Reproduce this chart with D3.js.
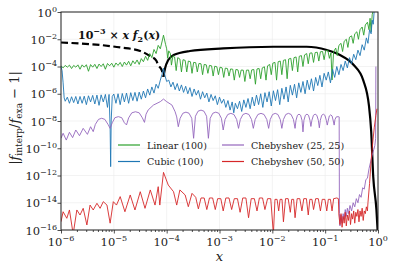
<!DOCTYPE html>
<html>
<head>
<meta charset="utf-8">
<script src="https://cdn.jsdelivr.net/npm/d3@7"></script>
<style>
  body { margin: 0; background: #fff; }
  svg { display: block; }
</style>
</head>
<body>
<div id="plot"></div>
<script>
// all values as log10 exponents: [log10 x, log10 y]
const xTicks = [-6, -5, -4, -3, -2, -1, 0];
const yTicks = [0, -2, -4, -6, -8, -10, -12, -14, -16];

const legendNames = ["Linear (100)", "Cubic (100)", "Chebyshev (25, 25)", "Chebyshev (50, 50)"];
const legendColors = ["#2ca02c", "#1f77b4", "#9467bd", "#d62728"];

// 1e-3 * x f2(x): negative part (dashed) and positive part (solid)
const f2Negative = [[-6.00,-2.24],[-5.64,-2.31],[-5.26,-2.42],[-4.88,-2.60],[-4.50,-2.86],[-4.31,-3.25],[-4.20,-3.55],[-4.16,-3.89],[-4.09,-4.30],[-4.06,-4.75]];
const f2Positive = [[-4.06,-4.75],[-4.03,-4.13],[-3.97,-3.52],[-3.87,-3.16],[-3.56,-2.86],[-2.93,-2.67],[-1.98,-2.55],[-1.35,-2.55],[-0.97,-2.79],[-0.72,-3.16],[-0.46,-3.89],[-0.28,-5.00],[-0.17,-6.90],[-0.13,-8.70],[-0.09,-12.1],[-0.03,-14.5],[0.00,-16.5]];

const linear100 = [
[-6.00,-3.95],[-5.96,-4.10],[-5.92,-3.92],[-5.88,-4.05],[-5.84,-3.90],[-5.80,-4.15],[-5.76,-3.92],[-5.72,-4.05],[-5.68,-3.88],[-5.64,-4.20],
[-5.60,-3.88],[-5.56,-4.05],[-5.52,-3.87],[-5.48,-4.35],[-5.44,-3.86],[-5.40,-4.05],[-5.36,-3.84],[-5.32,-4.15],[-5.28,-3.82],[-5.24,-4.00],
[-5.20,-3.80],[-5.16,-4.20],[-5.12,-3.78],[-5.08,-3.95],[-5.04,-3.76],[-5.00,-4.05],[-4.96,-3.74],[-4.92,-3.92],[-4.88,-3.70],[-4.84,-4.00],
[-4.80,-3.67],[-4.76,-3.90],[-4.72,-3.62],[-4.68,-3.95],[-4.64,-3.58],[-4.60,-3.80],[-4.56,-3.52],[-4.52,-3.85],[-4.48,-3.42],[-4.44,-3.65],
[-4.40,-3.25],[-4.36,-3.55],[-4.32,-3.05],[-4.28,-3.35],[-4.24,-2.75],[-4.20,-3.05],[-4.16,-2.45],[-4.12,-2.70],[-4.08,-2.05],[-4.06,-1.70],
[-4.02,-2.40],[-4.00,-2.70],[-3.98,-3.40],[-3.96,-2.85],[-3.93,-3.05],[-3.91,-3.90],[-3.88,-3.20],[-3.85,-3.30],[-3.82,-4.30],[-3.79,-3.35],
[-3.75,-3.45],[-3.72,-4.40],[-3.69,-3.50],[-3.65,-3.55],[-3.62,-4.40],[-3.59,-3.60],[-3.55,-3.65],[-3.52,-4.50],[-3.49,-3.70],[-3.45,-3.72],
[-3.42,-4.40],[-3.39,-3.78],[-3.35,-3.80],[-3.32,-4.60],[-3.29,-3.85],[-3.25,-3.88],[-3.22,-4.50],[-3.19,-3.92],[-3.15,-3.95],[-3.12,-4.70],
[-3.09,-3.98],[-3.05,-4.02],[-3.02,-4.60],[-2.99,-4.05],[-2.95,-4.10],[-2.92,-4.80],[-2.89,-4.12],[-2.85,-4.15],[-2.82,-4.70],[-2.79,-4.18],
[-2.75,-4.20],[-2.72,-5.00],[-2.69,-4.22],[-2.65,-4.25],[-2.62,-4.80],[-2.59,-4.26],[-2.55,-4.27],[-2.52,-5.10],[-2.49,-4.27],[-2.45,-4.26],
[-2.42,-4.90],[-2.39,-4.25],[-2.35,-4.22],[-2.32,-5.30],[-2.29,-4.18],[-2.25,-4.15],[-2.22,-4.90],[-2.19,-4.10],[-2.15,-4.02],[-2.12,-5.00],
[-2.09,-3.95],[-2.05,-3.85],[-2.02,-4.60],[-1.99,-3.75],[-1.95,-3.70],[-1.92,-5.00],[-1.89,-3.65],[-1.85,-3.60],[-1.82,-4.60],[-1.79,-3.55],
[-1.75,-3.50],[-1.72,-4.90],[-1.69,-3.45],[-1.65,-3.40],[-1.62,-4.30],[-1.59,-3.35],[-1.55,-3.30],[-1.52,-4.40],[-1.49,-3.25],[-1.45,-3.20],
[-1.42,-4.00],[-1.39,-3.15],[-1.35,-3.05],[-1.32,-3.80],[-1.29,-3.02],[-1.25,-3.00],[-1.22,-3.70],[-1.19,-2.98],[-1.15,-2.95],[-1.12,-3.60],
[-1.09,-2.92],[-1.05,-2.90],[-1.02,-3.50],[-0.99,-2.85],[-0.95,-2.80],[-0.92,-3.40],[-0.89,-3.00],[-0.87,-4.99],[-0.84,-2.90],[-0.80,-2.65],
[-0.77,-3.20],[-0.74,-2.45],[-0.70,-2.30],[-0.67,-2.90],[-0.64,-2.15],[-0.60,-2.00],[-0.57,-2.60],[-0.54,-1.85],[-0.50,-1.75],[-0.47,-2.30],
[-0.44,-1.60],[-0.40,-1.45],[-0.37,-2.00],[-0.34,-1.30],[-0.30,-1.10],[-0.27,-1.70],[-0.24,-0.95],[-0.20,-0.75],[-0.17,-1.30],[-0.15,-0.46],
[-0.13,-1.45],[-0.11,-0.20],[-0.08,0.30]
];

const cubic100 = [
[-6.00,-4.00],[-5.98,-4.30],[-5.96,-5.20],[-5.94,-6.30],[-5.92,-6.55],[-5.88,-6.25],[-5.84,-6.70],[-5.80,-6.22],[-5.76,-6.65],[-5.72,-6.20],
[-5.68,-6.75],[-5.64,-6.20],[-5.60,-6.70],[-5.56,-6.18],[-5.52,-6.80],[-5.48,-6.15],[-5.44,-6.60],[-5.40,-6.12],[-5.36,-6.75],[-5.32,-6.10],
[-5.28,-6.85],[-5.24,-6.08],[-5.20,-6.60],[-5.16,-6.05],[-5.12,-7.00],[-5.09,-6.05],[-5.07,-8.50],[-5.06,-11.35],[-5.05,-8.00],[-5.03,-6.20],
[-5.00,-6.02],[-4.96,-6.70],[-4.92,-6.00],[-4.88,-6.80],[-4.84,-5.98],[-4.80,-6.60],[-4.76,-5.95],[-4.72,-6.70],[-4.68,-5.92],[-4.64,-6.50],
[-4.60,-5.90],[-4.56,-6.55],[-4.52,-5.88],[-4.48,-6.40],[-4.44,-5.80],[-4.40,-6.30],[-4.36,-5.65],[-4.32,-6.10],[-4.28,-5.50],[-4.24,-5.95],
[-4.20,-5.30],[-4.16,-5.60],[-4.12,-5.00],[-4.09,-4.60],[-4.06,-4.13],[-4.03,-4.70],[-4.00,-5.10],[-3.96,-5.00],[-3.92,-5.50],[-3.88,-5.15],
[-3.84,-5.70],[-3.80,-5.25],[-3.76,-5.80],[-3.72,-5.35],[-3.68,-5.90],[-3.64,-5.45],[-3.60,-6.00],[-3.56,-5.55],[-3.52,-6.20],[-3.48,-5.65],
[-3.44,-6.10],[-3.40,-5.75],[-3.36,-6.40],[-3.32,-5.85],[-3.28,-6.30],[-3.24,-5.95],[-3.20,-6.60],[-3.16,-6.05],[-3.12,-6.50],[-3.08,-6.15],
[-3.04,-6.80],[-3.00,-6.25],[-2.96,-6.70],[-2.92,-6.40],[-2.88,-7.00],[-2.84,-6.50],[-2.80,-7.20],[-2.76,-6.60],[-2.73,-7.40],[-2.70,-6.70],
[-2.66,-7.10],[-2.62,-6.55],[-2.58,-7.30],[-2.54,-6.45],[-2.50,-7.00],[-2.46,-6.35],[-2.42,-7.10],[-2.38,-6.25],[-2.34,-6.90],[-2.30,-6.10],
[-2.26,-6.80],[-2.22,-6.00],[-2.18,-7.00],[-2.14,-5.92],[-2.10,-6.60],[-2.06,-5.85],[-2.02,-6.90],[-1.98,-5.78],[-1.94,-6.50],[-1.90,-5.70],
[-1.86,-6.80],[-1.82,-5.60],[-1.78,-6.40],[-1.74,-5.50],[-1.70,-6.60],[-1.66,-5.38],[-1.62,-6.10],[-1.58,-5.30],[-1.54,-6.30],[-1.50,-5.20],
[-1.46,-5.90],[-1.42,-5.10],[-1.38,-6.00],[-1.34,-5.00],[-1.30,-5.70],[-1.26,-4.90],[-1.22,-5.80],[-1.18,-4.80],[-1.14,-5.40],[-1.10,-4.65],
[-1.06,-5.50],[-1.02,-4.50],[-0.98,-5.00],[-0.94,-4.40],[-0.90,-5.20],[-0.86,-4.20],[-0.82,-4.80],[-0.78,-4.00],[-0.74,-4.60],[-0.70,-3.85],
[-0.66,-4.30],[-0.62,-3.60],[-0.58,-4.10],[-0.54,-3.35],[-0.50,-3.80],[-0.46,-3.10],[-0.42,-3.50],[-0.38,-2.80],[-0.34,-3.20],[-0.30,-2.40],
[-0.26,-2.80],[-0.22,-1.90],[-0.19,-2.30],[-0.16,-1.30],[-0.13,-1.60],[-0.11,-0.60],[-0.09,-0.90],[-0.07,0.20]
];

const cheb25 = [
[-6.00,-9.27],[-5.96,-8.90],[-5.90,-9.40],[-5.84,-8.83],[-5.78,-9.22],[-5.72,-8.66],[-5.65,-9.08],[-5.58,-8.54],[-5.50,-8.98],[-5.44,-8.42],[-5.39,-8.78],
[-5.35,-8.25],[-5.29,-7.88],[-5.23,-7.80],[-5.17,-7.88],[-5.11,-8.25],[-5.07,-8.54],
[-5.03,-8.13],[-4.98,-7.76],[-4.915,-7.68],[-4.85,-7.76],[-4.80,-8.13],[-4.76,-8.29],
[-4.72,-7.77],[-4.66,-7.40],[-4.59,-7.32],[-4.52,-7.40],[-4.46,-7.77],[-4.42,-8.10],
[-4.39,-7.50],[-4.35,-7.19],[-4.25,-6.83],[-4.12,-6.58],[-4.06,-6.39],[-4.00,-6.58],[-3.90,-6.83],[-3.84,-7.32],[-3.81,-7.70],[-3.78,-8.42],
[-3.745,-7.80],[-3.693,-7.43],[-3.635,-7.35],[-3.577,-7.43],[-3.525,-7.80],[-3.49,-9.27],
[-3.456,-7.65],[-3.406,-7.28],[-3.35,-7.20],[-3.294,-7.28],[-3.244,-7.65],[-3.21,-9.27],
[-3.176,-7.80],[-3.126,-7.43],[-3.07,-7.35],[-3.014,-7.43],[-2.964,-7.80],[-2.93,-8.66],
[-2.895,-7.89],[-2.843,-7.52],[-2.785,-7.44],[-2.727,-7.52],[-2.675,-7.89],[-2.64,-8.54],
[-2.606,-7.89],[-2.556,-7.52],[-2.50,-7.44],[-2.444,-7.52],[-2.394,-7.89],[-2.36,-8.54],
[-2.325,-7.89],[-2.273,-7.52],[-2.215,-7.44],[-2.157,-7.52],[-2.105,-7.89],[-2.07,-8.54],
[-2.04,-7.89],[-1.995,-7.52],[-1.945,-7.44],[-1.895,-7.52],[-1.85,-7.89],[-1.82,-8.54],
[-1.79,-7.89],[-1.745,-7.52],[-1.695,-7.44],[-1.645,-7.52],[-1.60,-7.89],[-1.57,-8.54],
[-1.552,-7.95],[-1.525,-7.58],[-1.495,-7.50],[-1.465,-7.58],[-1.438,-7.95],[-1.42,-8.80],
[-1.402,-7.95],[-1.375,-7.58],[-1.345,-7.50],[-1.315,-7.58],[-1.288,-7.95],[-1.27,-8.40],
[-1.251,-7.95],[-1.222,-7.58],[-1.19,-7.50],[-1.158,-7.58],[-1.129,-7.95],[-1.11,-8.50],
[-1.092,-7.95],[-1.065,-7.58],[-1.035,-7.50],[-1.005,-7.58],[-0.978,-7.95],[-0.96,-8.30],
[-0.944,-8.00],[-0.921,-7.63],[-0.895,-7.55],[-0.869,-7.63],[-0.846,-8.00],[-0.83,-8.30],
[-0.815,-7.90],[-0.79,-7.70],[-0.75,-7.68],[-0.735,-7.70],
[-0.73,-14.8],[-0.72,-15.7],[-0.70,-14.9],[-0.68,-15.5],[-0.66,-14.8],[-0.64,-15.2],[-0.62,-14.5],[-0.60,-15.0],[-0.58,-14.4],[-0.56,-14.8],
[-0.53,-14.2],[-0.50,-14.6],[-0.47,-14.0],[-0.44,-14.3],[-0.41,-13.7],[-0.38,-14.0],[-0.35,-13.4],[-0.32,-13.6],[-0.29,-12.9],[-0.26,-13.0],
[-0.23,-12.3],[-0.20,-12.2],[-0.17,-11.5],[-0.14,-11.0],[-0.11,-10.5],[-0.08,-10.1],[-0.06,-9.8],[-0.045,-9.3],[-0.04,-4.0]
];

const cheb50 = [
[-6.00,-15.39],[-5.96,-14.66],[-5.89,-15.14],[-5.84,-14.53],[-5.77,-16.3],[-5.70,-14.53],[-5.64,-14.90],[-5.58,-14.41],[-5.51,-15.63],[-5.45,-14.17],
[-5.39,-14.53],[-5.32,-14.04],[-5.26,-14.41],[-5.20,-13.92],[-5.13,-14.17],[-5.07,-15.50],[-5.01,-13.92],[-4.95,-14.17],[-4.88,-13.55],[-4.79,-14.66],
[-4.69,-13.43],[-4.60,-14.53],[-4.50,-13.19],[-4.41,-14.41],[-4.31,-13.06],[-4.22,-14.17],[-4.16,-12.82],[-4.13,-14.17],[-4.06,-11.77],[-3.97,-12.70],
[-3.87,-13.19],[-3.81,-14.17],[-3.75,-13.06],[-3.65,-13.43],[-3.59,-14.29],[-3.52,-13.31],[-3.45,-13.60],
[-3.40,-14.45],[-3.35,-13.65],[-3.29,-13.65],[-3.24,-14.50],[-3.19,-13.65],[-3.13,-13.65],[-3.08,-14.50],[-3.035,-13.7],[-2.975,-13.7],[-2.93,-14.60],
[-2.88,-13.65],[-2.82,-13.65],[-2.77,-14.50],[-2.72,-13.7],[-2.66,-13.7],[-2.61,-14.70],[-2.56,-13.65],[-2.50,-13.65],[-2.45,-15.10],[-2.40,-13.7],
[-2.34,-13.7],[-2.29,-14.60],[-2.245,-13.65],[-2.185,-13.65],[-2.14,-14.50],[-2.09,-13.7],[-2.03,-13.7],[-1.98,-16.30],[-1.95,-13.75],[-1.91,-13.75],
[-1.88,-14.60],[-1.853,-13.75],[-1.817,-13.75],[-1.79,-15.40],[-1.75,-13.7],[-1.70,-13.7],[-1.66,-14.70],[-1.633,-13.75],[-1.597,-13.75],[-1.57,-15.10],
[-1.53,-13.7],[-1.48,-13.7],[-1.44,-14.60],[-1.405,-13.7],[-1.355,-13.7],[-1.32,-14.90],[-1.29,-13.75],[-1.25,-13.75],[-1.22,-14.50],[-1.18,-13.7],
[-1.13,-13.7],[-1.09,-14.60],[-1.055,-13.75],[-1.005,-13.75],[-0.97,-14.60],[-0.94,-13.75],[-0.90,-13.75],[-0.87,-14.60],[-0.84,-13.7],[-0.78,-13.65],
[-0.75,-13.7],
[-0.74,-14.9],[-0.72,-15.6],[-0.70,-14.8],[-0.68,-15.8],[-0.66,-15.0],[-0.64,-15.5],[-0.62,-14.7],[-0.60,-15.7],[-0.58,-14.9],[-0.56,-15.3],
[-0.54,-14.6],[-0.52,-15.6],[-0.50,-14.8],[-0.48,-15.2],[-0.46,-14.6],[-0.44,-15.5],[-0.42,-14.7],[-0.40,-15.0],[-0.38,-14.5],[-0.36,-15.4],
[-0.34,-14.6],[-0.32,-15.0],[-0.30,-14.4],[-0.28,-15.3],[-0.26,-14.6],[-0.24,-14.8],[-0.22,-14.3],[-0.20,-14.6],[-0.19,-14.0],[-0.16,-12.6],
[-0.13,-10.9],[-0.10,-9.6],[-0.07,-8.45],[-0.04,-7.6],[-0.02,-7.1]
];

const margin = {top: 12, right: 15, bottom: 40, left: 61};
const width = 393 - margin.left - margin.right;
const height = 270 - margin.top - margin.bottom;
const serif = "DejaVu Serif";

const svg = d3.select("#plot")
    .append("svg")
    .attr("width", width + margin.left + margin.right)
    .attr("height", height + margin.top + margin.bottom);

const plot = svg.append("g")
    .attr("transform", "translate(" + margin.left + "," + margin.top + ")");

const x = d3.scaleLog().domain([1e-6, 1]).range([0, width]);
const y = d3.scaleLog().domain([1e-16, 1]).range([height, 0]);

// grid
plot.append("g").selectAll("line").data(xTicks).enter().append("line")
    .attr("x1", d => x(10 ** d)).attr("x2", d => x(10 ** d))
    .attr("y1", 0).attr("y2", height)
    .attr("stroke", "#ebebeb").attr("stroke-width", 0.6);
plot.append("g").selectAll("line").data(yTicks).enter().append("line")
    .attr("x1", 0).attr("x2", width)
    .attr("y1", d => y(10 ** d)).attr("y2", d => y(10 ** d))
    .attr("stroke", "#ebebeb").attr("stroke-width", 0.6);

// lines
plot.append("clipPath").attr("id", "clip")
    .append("rect").attr("width", width).attr("height", height);
const lines = plot.append("g").attr("clip-path", "url(#clip)");

const line = d3.line()
    .x(d => x(10 ** d[0]))
    .y(d => y(10 ** d[1]));
const smooth = d3.line()
    .x(d => x(10 ** d[0]))
    .y(d => y(10 ** d[1]))
    .curve(d3.curveMonotoneX);

lines.append("path").datum(f2Negative).attr("d", smooth)
    .attr("fill", "none").attr("stroke", "#000").attr("stroke-width", 2.2)
    .attr("stroke-dasharray", "7,3.5");
lines.append("path").datum(f2Positive).attr("d", smooth)
    .attr("fill", "none").attr("stroke", "#000").attr("stroke-width", 2.2);

[linear100, cubic100, cheb25, cheb50].forEach((s, i) => {
  lines.append("path").datum(s).attr("d", line)
      .attr("fill", "none").attr("stroke", legendColors[i])
      .attr("stroke-width", 0.9).attr("stroke-linejoin", "round");
});

// axes
const minorX = [];
xTicks.slice(0, -1).forEach(e => { for (let m = 2; m < 10; m++) minorX.push(m * 10 ** e); });

plot.append("g").attr("transform", "translate(0," + height + ")")
    .call(d3.axisBottom(x).tickValues(minorX).tickSize(2).tickFormat(() => ""))
    .call(g => g.select(".domain").remove());
plot.append("g").attr("transform", "translate(0," + height + ")")
    .call(d3.axisBottom(x).tickValues(xTicks.map(e => 10 ** e)).tickSize(3.5).tickFormat(() => ""))
    .call(g => g.select(".domain").remove());
plot.append("g")
    .call(d3.axisLeft(y).tickValues(yTicks.map(e => 10 ** e)).tickSize(3.5).tickFormat(() => ""))
    .call(g => g.select(".domain").remove());
plot.selectAll(".tick line").attr("stroke", "#222").attr("stroke-width", 0.8);

plot.append("rect").attr("width", width).attr("height", height)
    .attr("fill", "none").attr("stroke", "#222").attr("stroke-width", 1);

function powLabel(t, e) {
  t.append("tspan").text("10");
  t.append("tspan").attr("dy", -5).attr("font-size", 8).text(e === 0 ? "0" : "\u2212" + (-e));
}

xTicks.forEach(e => {
  const t = plot.append("text").attr("x", x(10 ** e)).attr("y", height + 15.5)
      .attr("text-anchor", "middle").attr("font-family", serif).attr("font-size", 11.5).attr("fill", "#222");
  powLabel(t, e);
});
yTicks.forEach(e => {
  const t = plot.append("text").attr("x", -4).attr("y", y(10 ** e) + 4.5)
      .attr("text-anchor", "end").attr("font-family", serif).attr("font-size", 11.5).attr("fill", "#222");
  powLabel(t, e);
});

// axis titles
plot.append("text").attr("x", width / 2).attr("y", height + 30.5)
    .attr("text-anchor", "middle").attr("font-family", serif).attr("font-size", 13).attr("font-style", "italic")
    .attr("fill", "#222").text("x");

const yl = plot.append("text")
    .attr("transform", "translate(-42.5," + (height / 2 - 3) + ") rotate(-90)")
    .attr("text-anchor", "middle").attr("font-family", serif).attr("font-size", 13).attr("fill", "#222");
yl.append("tspan").text("|");
yl.append("tspan").attr("font-style", "italic").text("f");
yl.append("tspan").attr("font-size", 9).attr("dy", 3).text("interp");
yl.append("tspan").attr("dy", -3).text("/");
yl.append("tspan").attr("font-style", "italic").text("f");
yl.append("tspan").attr("font-size", 9).attr("dy", 3).text("exa");
yl.append("tspan").attr("dy", -3).text(" \u2212 1|");

// annotation
const ann = plot.append("text").attr("x", 17).attr("y", 26.5)
    .attr("font-family", serif).attr("font-size", 11).attr("font-weight", "bold").attr("fill", "#111");
ann.append("tspan").text("10");
ann.append("tspan").attr("dy", -5).attr("font-size", 8).text("\u22123");
ann.append("tspan").attr("dy", 5).text(" \u00d7 ");
ann.append("tspan").attr("font-style", "italic").text("x f");
ann.append("tspan").attr("dy", 3).attr("font-size", 8).text("2");
ann.append("tspan").attr("dy", -3).text("(");
ann.append("tspan").attr("font-style", "italic").text("x");
ann.append("tspan").text(")");

// legend
const legendPos = [[57, 133], [57, 149.5], [161, 133], [161, 149.5]];
legendNames.forEach((name, i) => {
  const [lx, ly] = legendPos[i];
  plot.append("line").attr("x1", lx).attr("x2", lx + 22).attr("y1", ly).attr("y2", ly)
      .attr("stroke", legendColors[i]).attr("stroke-width", 1.2);
  plot.append("text").attr("x", lx + 29).attr("y", ly + 3.5)
      .attr("font-family", serif).attr("font-size", 9.5).attr("fill", "#222").text(name);
});
</script>
</body>
</html>
